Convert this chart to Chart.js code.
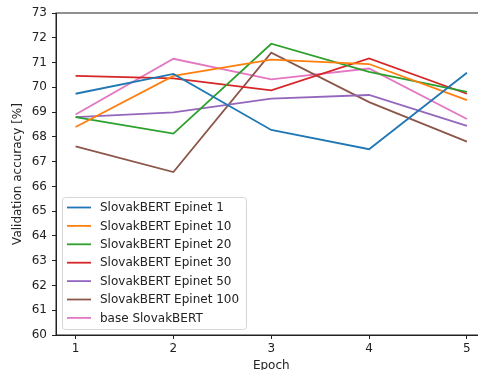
<!DOCTYPE html>
<html>
<head>
<meta charset="utf-8">
<script src="https://cdn.jsdelivr.net/npm/chart.js@4.4.0/dist/chart.umd.min.js"></script>
<style>
  html, body { margin: 0; padding: 0; background: #fff; }
  .wrap { width: 478px; height: 370px; overflow: hidden; position: relative; }
  .wrap canvas { position: absolute; left: 0; top: 0; }
</style>
</head>
<body>
<div class="wrap"><canvas id="chart" width="490" height="380"></canvas></div>
<script>
// Data
const epochs = [1, 2, 3, 4, 5];
const seriesLabels = [
    'SlovakBERT Epinet 1',
    'SlovakBERT Epinet 10',
    'SlovakBERT Epinet 20',
    'SlovakBERT Epinet 30',
    'SlovakBERT Epinet 50',
    'SlovakBERT Epinet 100',
    'base SlovakBERT'
];
const epinet1 = [69.74, 70.54, 68.28, 67.50, 70.59];
const epinet10 = [68.40, 70.46, 71.12, 70.94, 69.48];
const epinet20 = [68.80, 68.13, 71.76, 70.62, 69.82];
const epinet30 = [70.46, 70.36, 69.88, 71.17, 69.74];
const epinet50 = [68.80, 68.99, 69.54, 69.69, 68.44];
const epinet100 = [67.62, 66.58, 71.40, 69.40, 67.81];
const baseBert = [68.90, 71.15, 70.32, 70.76, 68.72];
const yTicks = [60, 61, 62, 63, 64, 65, 66, 67, 68, 69, 70, 71, 72, 73];

const colors = ['#1f77b4', '#ff7f0e', '#2ca02c', '#d62728', '#9467bd', '#8c564b', '#e377c2'];
const allSeries = [epinet1, epinet10, epinet20, epinet30, epinet50, epinet100, baseBert];

const FONT = 'DejaVu Sans';
const FSIZE = 12;

// matplotlib style frame and legend
const framePlugin = {
    id: 'frame',
    afterDraw(chart) {
        const ctx = chart.ctx;
        const a = chart.chartArea;
        ctx.save();
        ctx.strokeStyle = '#222';
        ctx.lineWidth = 1;
        ctx.strokeRect(a.left, a.top, a.right - a.left, a.bottom - a.top);

        // legend box
        const x0 = 62, y0 = 197, w = 184, h = 132;
        ctx.fillStyle = 'rgba(255,255,255,0.8)';
        ctx.strokeStyle = '#d6d6d6';
        ctx.lineWidth = 1;
        ctx.beginPath();
        ctx.roundRect(x0 + 0.5, y0 + 0.5, w, h, 3);
        ctx.fill();
        ctx.stroke();

        ctx.font = FSIZE + 'px "' + FONT + '"';
        ctx.textBaseline = 'middle';
        ctx.textAlign = 'left';
        chart.data.datasets.forEach((ds, i) => {
            const y = 207.5 + i * 18.4;
            ctx.strokeStyle = ds.borderColor;
            ctx.lineWidth = 1.8;
            ctx.beginPath();
            ctx.moveTo(67, y);
            ctx.lineTo(91, y);
            ctx.stroke();
            ctx.fillStyle = '#222';
            ctx.fillText(ds.label, 100, y + 0.5);
        });
        ctx.restore();
    }
};

new Chart(document.getElementById('chart'), {
    type: 'line',
    data: {
        datasets: seriesLabels.map((label, i) => ({
            label: label,
            data: epochs.map((e, j) => ({ x: e, y: allSeries[i][j] })),
            borderColor: colors[i],
            backgroundColor: colors[i],
            borderWidth: 1.8,
            pointRadius: 0,
            tension: 0,
            fill: false
        }))
    },
    options: {
        responsive: false,
        animation: false,
        layout: { padding: { top: 13, right: 3.5, left: 0, bottom: 0 } },
        plugins: {
            legend: { display: false },
            tooltip: { enabled: false }
        },
        scales: {
            x: {
                type: 'linear',
                min: 0.8,
                max: 5.2,
                afterBuildTicks: (scale) => { scale.ticks = epochs.map(v => ({ value: v })); },
                afterFit: (scale) => { scale.height = 45; },
                grid: { display: true, drawOnChartArea: false, tickLength: 4, color: '#222', lineWidth: 1 },
                border: { display: true, color: '#222', width: 1 },
                ticks: { color: '#222', font: { family: FONT, size: FSIZE }, padding: 3, maxRotation: 0 },
                title: { display: true, text: 'Epoch', color: '#222', font: { family: FONT, size: FSIZE }, padding: { top: 2, bottom: 7 } }
            },
            y: {
                min: 60,
                max: 73,
                afterBuildTicks: (scale) => { scale.ticks = yTicks.map(v => ({ value: v })); },
                afterFit: (scale) => { scale.width = 56; },
                grid: { display: true, drawOnChartArea: false, tickLength: 4, color: '#222', lineWidth: 1 },
                border: { display: true, color: '#222', width: 1 },
                ticks: { color: '#222', font: { family: FONT, size: FSIZE }, padding: 5 },
                title: { display: true, text: 'Validation accuracy [%]', color: '#222', font: { family: FONT, size: FSIZE }, padding: { top: 11, bottom: 4 } }
            }
        }
    },
    plugins: [framePlugin]
});
</script>
</body>
</html>
